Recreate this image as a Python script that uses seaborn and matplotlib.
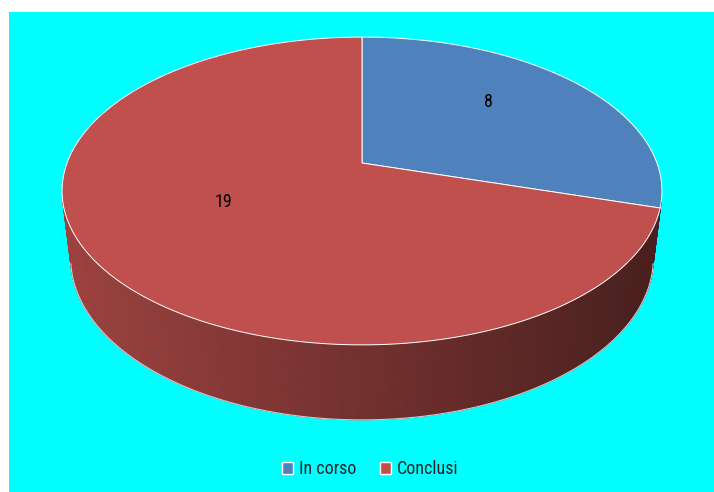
import numpy as np
import matplotlib
matplotlib.use("Agg")
import matplotlib.pyplot as plt
import seaborn as sns
from matplotlib.patches import Patch

# data
labels = ["In corso", "Conclusi"]
values = [8, 19]
slice_colors = ["#4F81BD", "#C0504D"]

# fake 3D camera (tuned by eye against the reference)
PHI = np.radians(30.3)   # elevation of the camera
DIST = 4.75              # camera distance, disc radius = 1
FOCAL = 1401
CX, CY = 362, 163        # where the disc centre lands, in pixels
THICK = 0.27             # height of the pie


def project(x, h, z):
    # world: x right, h up, z toward the viewer
    depth = DIST - h * np.sin(PHI) - z * np.cos(PHI)
    up = h * np.cos(PHI) - z * np.sin(PHI)
    return CX + FOCAL * x / depth, CY - FOCAL * up / depth


def rim(t_deg, h):
    t = np.radians(t_deg)
    return project(np.cos(t), h, -np.sin(t))


sns.set_theme(style="white")
plt.rcParams['font.family'] = ['Liberation Sans Narrow', 'DejaVu Sans Condensed',
                               'Roboto Condensed', 'Lato', 'DejaVu Sans']

fig = plt.figure(figsize=(7.14, 4.92), dpi=100)
fig.patch.set_facecolor("white")
ax = fig.add_axes([9 / 714, 0, 705 / 714, 480 / 492])
ax.set_xlim(9, 714)
ax.set_ylim(492, 12)
ax.set_facecolor("#00FFFF")
ax.set_xticks([])
ax.set_yticks([])
sns.despine(ax=ax, left=True, bottom=True)

total = sum(values)
bounds = 90 - 360 * np.concatenate([[0], np.cumsum(values)]) / total
palette = sns.color_palette(slice_colors)

# side wall, shaded darker to the right
for i in range(len(values)):
    t0, t1 = bounds[i], bounds[i + 1]
    ts = np.linspace(t0, t1, int(abs(t1 - t0) * 2) + 2)
    for ta, tb in zip(ts[:-1], ts[1:]):
        tm = np.radians((ta + tb) / 2)
        if -1 - DIST * np.cos(PHI) * np.sin(tm) <= 0:
            continue
        xa, ya = rim(ta, 0)
        xb, yb = rim(tb, 0)
        xc, yc = rim(tb, -THICK)
        xd, yd = rim(ta, -THICK)
        shade = 0.82 - 0.44 * ((xa + xb) / 2 - 63) / 600
        col = tuple(np.clip(np.array(palette[i]) * shade, 0, 1))
        ax.fill([xa, xb, xc, xd], [ya, yb, yc, yd], color=col, lw=0.6, ec=col)

# light fringe on the bottom edge
tb_all = np.linspace(-12, -168, 200)
bx, by = rim(tb_all, -THICK)
ax.plot(bx, by, color="#d8c8c8", lw=0.8)

# top faces
for i in range(len(values)):
    t0, t1 = bounds[i], bounds[i + 1]
    ts = np.linspace(t0, t1, 300)
    px, py = rim(ts, 0)
    cx, cy = project(0, 0, 0)
    ax.fill(np.r_[cx, px], np.r_[cy, py], color=palette[i], ec="white", lw=0.7)

# value labels
for i, v in enumerate(values):
    tm = np.radians((bounds[i] + bounds[i + 1]) / 2)
    lx, ly = project(0.56 * np.cos(tm), 0, -0.56 * np.sin(tm))
    ax.text(lx + 2, ly - 14, str(v), ha="center", va="center", fontsize=13,
            color="black")

handles = [Patch(facecolor=palette[i], edgecolor="white", label=labels[i])
           for i in range(len(labels))]
ax.legend(handles=handles, loc="center", bbox_to_anchor=(0.512, 0.048), ncol=2,
          frameon=False, fontsize=13, handlelength=0.65, handleheight=0.65,
          handletextpad=0.3, columnspacing=1.3, borderpad=0)

fig.savefig("out.png", dpi=100, facecolor="white")
